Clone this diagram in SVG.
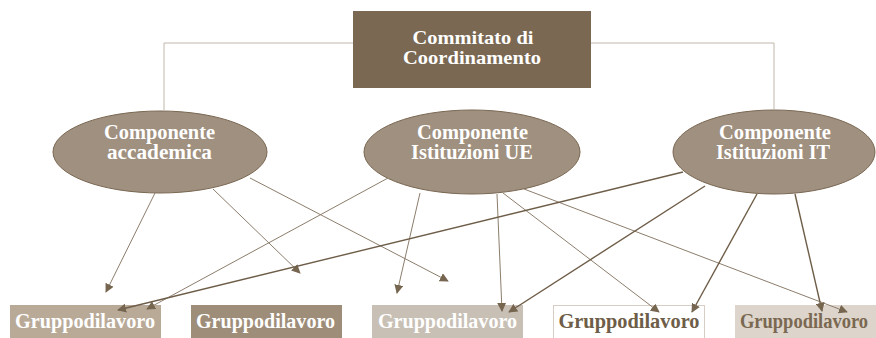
<svg xmlns="http://www.w3.org/2000/svg" width="876" height="338" viewBox="0 0 876 338">
<defs>
<marker id="ah" viewBox="0 0 10 10" refX="9" refY="5" markerWidth="9" markerHeight="9" markerUnits="userSpaceOnUse" orient="auto">
<path d="M0,0 L10,5 L0,10 z" fill="#76654f"/>
</marker>
</defs>
<style>
text{font-family:"Liberation Serif",serif;font-weight:bold;text-anchor:middle}
.w{fill:#ffffff}
.ell{fill:#a09080;stroke:#7a6852;stroke-width:1}
.top{fill:none;stroke:#c0b6aa;stroke-width:1}
.a{fill:none;stroke:#8c7d6c;stroke-width:1;marker-end:url(#ah)}
.b{fill:none;stroke:#6e5d48;stroke-width:1.4;marker-end:url(#ah)}
.t1{font-size:19.5px}
.t2{font-size:20px}
.t3{font-size:20px}
</style>
<g id="commitato">
<rect x="353" y="11" width="238" height="77" fill="#7a6852"/>
<text class="w t1" x="473" y="44" textLength="121" lengthAdjust="spacingAndGlyphs">Commitato di</text>
<text class="w t1" x="472" y="64" textLength="138" lengthAdjust="spacingAndGlyphs">Coordinamento</text>
</g>
<g id="comp-accademica">
<ellipse class="ell" cx="160" cy="152" rx="107" ry="41"/>
<text class="w t2" x="159.5" y="139" textLength="111" lengthAdjust="spacingAndGlyphs">Componente</text>
<text class="w t2" x="159.5" y="159" textLength="105" lengthAdjust="spacingAndGlyphs">accademica</text>
</g>
<g id="comp-ue">
<ellipse class="ell" cx="472" cy="152" rx="108" ry="42"/>
<text class="w t2" x="472.5" y="139" textLength="111" lengthAdjust="spacingAndGlyphs">Componente</text>
<text class="w t2" x="472" y="159" textLength="122" lengthAdjust="spacingAndGlyphs">Istituzioni UE</text>
</g>
<g id="comp-it">
<ellipse class="ell" cx="774" cy="152" rx="101" ry="42"/>
<text class="w t2" x="775" y="139" textLength="112" lengthAdjust="spacingAndGlyphs">Componente</text>
<text class="w t2" x="773" y="159" textLength="114" lengthAdjust="spacingAndGlyphs">Istituzioni IT</text>
</g>
<g id="gruppo1">
<rect x="10" y="305" width="151" height="33" fill="#b9aa98"/>
<text class="w t3" x="85" y="328" textLength="140" lengthAdjust="spacingAndGlyphs">Gruppodilavoro</text>
</g>
<g id="gruppo2">
<rect x="191" y="305" width="151" height="33" fill="#9e8d79"/>
<text class="w t3" x="265.5" y="328" textLength="139" lengthAdjust="spacingAndGlyphs">Gruppodilavoro</text>
</g>
<g id="gruppo3">
<rect x="372" y="305" width="151" height="33" fill="#c8bfb5"/>
<text class="w t3" x="447.5" y="328" textLength="139" lengthAdjust="spacingAndGlyphs">Gruppodilavoro</text>
</g>
<g id="gruppo4">
<rect x="553.5" y="305.5" width="151" height="33" fill="#ffffff" stroke="#d6cec5"/>
<text class="t3" x="629" y="328" fill="#6e5d48" textLength="141" lengthAdjust="spacingAndGlyphs">Gruppodilavoro</text>
</g>
<g id="gruppo5">
<rect x="735" y="305" width="141" height="33" fill="#ddd5cc"/>
<text class="t3" x="804" y="328" fill="#7a6852" font-size="19px" textLength="128" lengthAdjust="spacingAndGlyphs">Gruppodilavoro</text>
</g>
<g id="connectors">
<polyline class="top" points="353,43 164,43 164,110"/>
<polyline class="top" points="591,43 774,43 774,110"/>
<line class="a" x1="155" y1="193" x2="106" y2="292"/>
<line class="a" x1="213" y1="189" x2="300" y2="273"/>
<line class="a" x1="250" y1="178" x2="448" y2="281"/>
<line class="a" x1="388" y1="178" x2="147" y2="309"/>
<line class="a" x1="420" y1="193" x2="397" y2="293"/>
<line class="a" x1="497" y1="194" x2="502" y2="311"/>
<line class="a" x1="503" y1="193" x2="659" y2="312"/>
<line class="a" x1="524" y1="189" x2="847" y2="312"/>
<line class="b" x1="683" y1="172" x2="118" y2="310"/>
<line class="b" x1="705" y1="186" x2="509" y2="312"/>
<line class="b" x1="757" y1="194" x2="692" y2="312"/>
<line class="b" x1="795" y1="194" x2="822" y2="311"/>
</g>
</svg>
